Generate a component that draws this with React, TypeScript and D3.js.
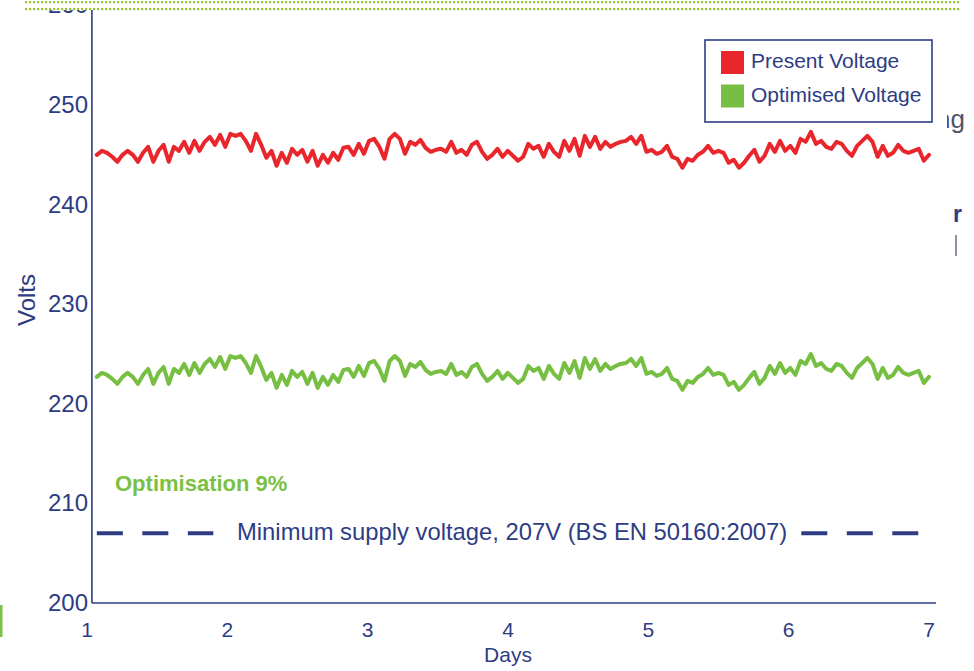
import React from "react";
import * as d3 from "d3";

const width = 974, height = 671;

const dayTicks = [1, 2, 3, 4, 5, 6, 7];
const voltTicks = [200, 210, 220, 230, 240, 250, 260];

// readings are evenly spaced between these two days
const sampleStart = 1.07, sampleEnd = 7.0;

const presentVoltage = [
  245.0, 245.4, 245.2, 244.8, 244.3, 245.0, 245.4, 245.0, 244.3, 245.2,
  245.8, 244.3, 245.4, 246.0, 244.3, 245.8, 245.4, 246.3, 245.2, 246.4,
  245.4, 246.3, 246.8, 246.0, 247.0, 245.8, 247.1, 246.9, 247.1, 246.4,
  245.4, 247.1, 246.0, 244.7, 245.4, 243.9, 245.2, 244.2,
  245.6, 245.0, 245.5, 244.3, 245.4, 243.9, 245.0, 244.2, 245.2, 244.5,
  245.7, 245.8, 245.0, 246.1, 245.1, 246.4, 246.6, 245.8, 244.6, 246.6,
  247.1, 246.6, 245.1, 246.3, 246.0, 246.5, 245.7, 245.3, 245.5, 245.6,
  245.3, 246.3, 245.2, 245.5, 245.0, 246.0, 246.3, 245.3, 244.6, 245.0,
  245.6,
  244.8, 245.4, 244.9, 244.4, 244.8, 246.1, 245.6, 245.9, 244.8, 246.1,
  245.3, 244.8, 246.4, 245.4, 246.6, 244.9, 246.9, 245.8, 246.8, 245.6,
  246.3, 245.8, 246.1, 246.3, 246.4, 246.8, 246.1, 246.9, 245.3, 245.5,
  245.1, 245.3, 245.9, 244.8, 244.6, 243.7, 244.6, 244.4, 245.0, 245.3,
  245.9,
  245.2, 245.4, 245.2, 244.2, 244.5, 243.7, 244.2, 244.9, 245.5, 244.3,
  244.9, 246.1, 245.3, 246.4, 245.4, 245.9, 245.2, 246.6, 246.3, 247.3,
  246.1, 246.4, 245.8, 245.6, 246.3, 246.1, 245.4, 244.9, 245.9, 246.4,
  246.9, 246.3, 244.8, 245.9, 244.9, 245.2, 246.0, 245.4, 245.2, 245.4,
  245.6, 244.4, 245.0,
];

const optimisedVoltage = [
  222.7, 223.1, 222.9, 222.5, 222.0, 222.7, 223.1, 222.7, 222.0, 222.9,
  223.5, 222.0, 223.1, 223.7, 222.0, 223.5, 223.1, 224.0, 222.9, 224.1,
  223.1, 224.0, 224.5, 223.7, 224.7, 223.5, 224.8, 224.6, 224.8, 224.1,
  223.1, 224.8, 223.7, 222.4, 223.1, 221.6, 222.9, 221.9,
  223.3, 222.7, 223.2, 222.0, 223.1, 221.6, 222.7, 221.9, 222.9, 222.2,
  223.4, 223.5, 222.7, 223.8, 222.8, 224.1, 224.3, 223.5, 222.3, 224.3,
  224.8, 224.3, 222.8, 224.0, 223.7, 224.2, 223.4, 223.0, 223.2, 223.3,
  223.0, 224.0, 222.9, 223.2, 222.7, 223.7, 224.0, 223.0, 222.3, 222.7,
  223.3,
  222.5, 223.1, 222.6, 222.1, 222.5, 223.8, 223.3, 223.6, 222.5, 223.8,
  223.0, 222.5, 224.1, 223.1, 224.3, 222.6, 224.6, 223.5, 224.5, 223.3,
  224.0, 223.5, 223.8, 224.0, 224.1, 224.5, 223.8, 224.6, 223.0, 223.2,
  222.8, 223.0, 223.6, 222.5, 222.3, 221.4, 222.3, 222.1, 222.7, 223.0,
  223.6,
  222.9, 223.1, 222.9, 221.9, 222.2, 221.4, 221.9, 222.6, 223.2, 222.0,
  222.6, 223.8, 223.0, 224.1, 223.1, 223.6, 222.9, 224.3, 224.0, 225.0,
  223.8, 224.1, 223.5, 223.3, 224.0, 223.8, 223.1, 222.6, 223.6, 224.1,
  224.6, 224.0, 222.5, 223.6, 222.6, 222.9, 223.7, 223.1, 222.9, 223.1,
  223.3, 222.1, 222.7,
];

const seriesNames = ["Present Voltage", "Optimised Voltage"];
const seriesColors = ["#e8262b", "#76bf43"];

const minSupply = 207;
const minSupplyDashes = [[1.07, 1.9], [6.09, 6.93]];
const minSupplyLabel = "Minimum supply voltage, 207V (BS EN 50160:2007)";
const optimisationLabel = "Optimisation 9%";

const navy = "#2e3c84";
const font = "'Liberation Sans', Arial, sans-serif";

const App = () => {
  const x = d3.scaleLinear().domain([1, 7]).range([87, 929]);
  const y = d3.scaleLinear().domain([200, 260]).range([603, 5.4]);

  const step = (sampleEnd - sampleStart) / (presentVoltage.length - 1);
  const days = presentVoltage.map((_, i) => sampleStart + i * step);

  const line = d3.line<number>()
    .x((_, i) => x(days[i]))
    .y(d => y(d));

  const series = [presentVoltage, optimisedVoltage];

  return (
    <svg width={width} height={height}
         style={{ position: "absolute", left: 0, top: 0, background: "#fff" }}
         fontFamily={font}>
      <defs>
        <pattern id="dots" width="4" height="7" patternUnits="userSpaceOnUse" x="25" y="1">
          <rect width="2.2" height="2.2" fill="#9cc42e" />
        </pattern>
        <clipPath id="edge">
          <rect x={947} y={0} width={30} height={height} />
        </clipPath>
      </defs>

      {/* axes */}
      <line x1={x(1.035)} x2={x(1.035)} y1={y(260)} y2={y(200)} stroke={navy} strokeWidth={1.6} />
      <line x1={x(1.035)} x2={x(7.05)} y1={y(200)} y2={y(200)} stroke={navy} strokeWidth={1.6} />

      {voltTicks.map(v => (
        <text key={v} x={88} y={y(v) + 8} textAnchor="end" fontSize={24} fill={navy}>{v}</text>
      ))}
      {dayTicks.map(d => (
        <text key={d} x={x(d)} y={637} textAnchor="middle" fontSize={21} fill={navy}>{d}</text>
      ))}
      <text x={508} y={662} textAnchor="middle" fontSize={21} fill={navy}>Days</text>
      <text transform="translate(35,300) rotate(-90)" textAnchor="middle" fontSize={24} fill={navy}>Volts</text>

      {/* series */}
      {series.map((s, i) => (
        <path key={i} d={line(s) || ""} fill="none" stroke={seriesColors[i]}
              strokeWidth={4} strokeLinejoin="round" strokeLinecap="round" />
      ))}

      {/* minimum supply voltage */}
      {minSupplyDashes.map((seg, i) => (
        <line key={i} x1={x(seg[0])} x2={x(seg[1])} y1={y(minSupply)} y2={y(minSupply)}
              stroke={navy} strokeWidth={4} strokeDasharray="26 19.5" />
      ))}
      <text x={237} y={540} fontSize={23.8} fill={navy}>{minSupplyLabel}</text>
      <text x={115} y={491} fontSize={22} fontWeight="bold" fill="#7ac143">{optimisationLabel}</text>

      {/* legend */}
      <rect x={705} y={40} width={227} height={82} fill="#fff" stroke={navy} strokeWidth={1.6} />
      {seriesNames.map((name, i) => (
        <g key={name} transform={`translate(721,${51 + i * 33.5})`}>
          <rect width={23} height={23} fill={seriesColors[i]} />
          <text x={30} y={17} fontSize={21} fill={navy}>{name}</text>
        </g>
      ))}

      {/* cropped edges of the surrounding page */}
      <g clipPath="url(#edge)">
        <text x={936} y={128} fontSize={26} fill="#505468">ng</text>
      </g>
      <text x={953} y={222} fontSize={23} fontWeight="bold" fill={navy}>r</text>
      <line x1={956} x2={956} y1={235} y2={256} stroke="#6a6f88" strokeWidth={1.5} />
      <rect x={0} y={605} width={2.5} height={32} fill="#7cc243" />

      {/* top band */}
      <rect x={0} y={0} width={width} height={10} fill="#fff" />
      <rect x={25} y={1} width={936} height={10} fill="url(#dots)" />
    </svg>
  );
};

export default App;
